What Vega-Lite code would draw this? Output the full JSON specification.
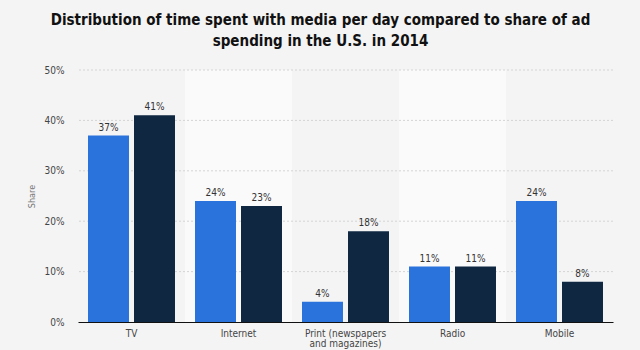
{
  "$schema": "https://vega.github.io/schema/vega-lite/v6.json",
  "width": 535,
  "height": 252,
  "autosize": {"type": "none"},
  "padding": {"left": 78, "top": 70, "right": 27, "bottom": 28},
  "background": "#f4f4f4",
  "title": {
    "text": ["Distribution of time spent with media per day compared to share of ad", "spending in the U.S. in 2014"],
    "font": "DejaVu Sans Condensed",
    "fontSize": 15,
    "fontWeight": "bold",
    "color": "#111111",
    "anchor": "middle",
    "dx": -25,
    "offset": 16,
    "lineHeight": 21
  },
  "config": {
    "view": {"stroke": null},
    "font": "DejaVu Sans Condensed"
  },
  "datasets": {
    "bars": [
      {"medium": "TV", "series": "Time spent", "share": 0.37},
      {"medium": "TV", "series": "Ad spending", "share": 0.41},
      {"medium": "Internet", "series": "Time spent", "share": 0.24},
      {"medium": "Internet", "series": "Ad spending", "share": 0.23},
      {"medium": "Print (newspapers and magazines)", "series": "Time spent", "share": 0.04},
      {"medium": "Print (newspapers and magazines)", "series": "Ad spending", "share": 0.18},
      {"medium": "Radio", "series": "Time spent", "share": 0.11},
      {"medium": "Radio", "series": "Ad spending", "share": 0.11},
      {"medium": "Mobile", "series": "Time spent", "share": 0.24},
      {"medium": "Mobile", "series": "Ad spending", "share": 0.08}
    ],
    "bands": [
      {"medium": "Internet"},
      {"medium": "Radio"}
    ],
    "grid": [
      {"share": 0.1}, {"share": 0.2}, {"share": 0.3}, {"share": 0.4}, {"share": 0.5}
    ]
  },
  "layer": [
    {
      "data": {"name": "bands"},
      "mark": {"type": "rect", "color": "#fafafa"},
      "encoding": {
        "x": {"field": "medium", "type": "nominal", "sort": null},
        "y": {"datum": 0, "type": "quantitative"},
        "y2": {"datum": 0.5}
      }
    },
    {
      "data": {"name": "grid"},
      "mark": {"type": "rule", "color": "#d4d4d4", "strokeDash": [2, 2], "strokeWidth": 1},
      "encoding": {
        "y": {"field": "share", "type": "quantitative"}
      }
    },
    {
      "data": {"name": "bars"},
      "mark": {"type": "bar"},
      "encoding": {
        "x": {
          "field": "medium", "type": "nominal", "sort": null,
          "scale": {"domain": ["TV", "Internet", "Print (newspapers and magazines)", "Radio", "Mobile"], "paddingInner": 0, "paddingOuter": 0},
          "axis": {
            "title": null,
            "labelAngle": 0,
            "labelAlign": "center",
            "labelBaseline": "top",
            "labelColor": "#444444",
            "labelFontSize": 10,
            "labelPadding": 6,
            "labelLineHeight": 10,
            "labelLimit": 200,
            "labelExpr": "datum.label == 'Print (newspapers and magazines)' ? ['Print (newspapers', 'and magazines)'] : datum.label",
            "ticks": false,
            "domainColor": "#111111",
            "domainWidth": 1.2
          }
        },
        "xOffset": {
          "field": "series", "type": "nominal",
          "scale": {"domain": ["Time spent", "Ad spending"], "paddingInner": 0.109, "paddingOuter": 0.2175}
        },
        "y": {
          "field": "share", "type": "quantitative",
          "scale": {"domain": [0, 0.5], "nice": false},
          "axis": {
            "title": "Share",
            "titleFontSize": 9,
            "titleFontWeight": "normal",
            "titleColor": "#777777",
            "titlePadding": 8,
            "format": ".0%",
            "values": [0, 0.1, 0.2, 0.3, 0.4, 0.5],
            "labelOverlap": false,
            "labelColor": "#444444",
            "labelFontSize": 10,
            "labelPadding": 14,
            "ticks": false,
            "domain": false,
            "grid": false
          }
        },
        "color": {
          "field": "series", "type": "nominal",
          "scale": {"domain": ["Time spent", "Ad spending"], "range": ["#2a73dc", "#0f2741"]},
          "legend": null
        }
      }
    },
    {
      "data": {"name": "bars"},
      "mark": {"type": "text", "dy": -8, "fontSize": 10, "color": "#333333"},
      "encoding": {
        "x": {"field": "medium", "type": "nominal", "sort": null},
        "xOffset": {"field": "series", "type": "nominal"},
        "y": {"field": "share", "type": "quantitative"},
        "text": {"field": "share", "type": "quantitative", "format": ".0%"}
      }
    }
  ]
}
